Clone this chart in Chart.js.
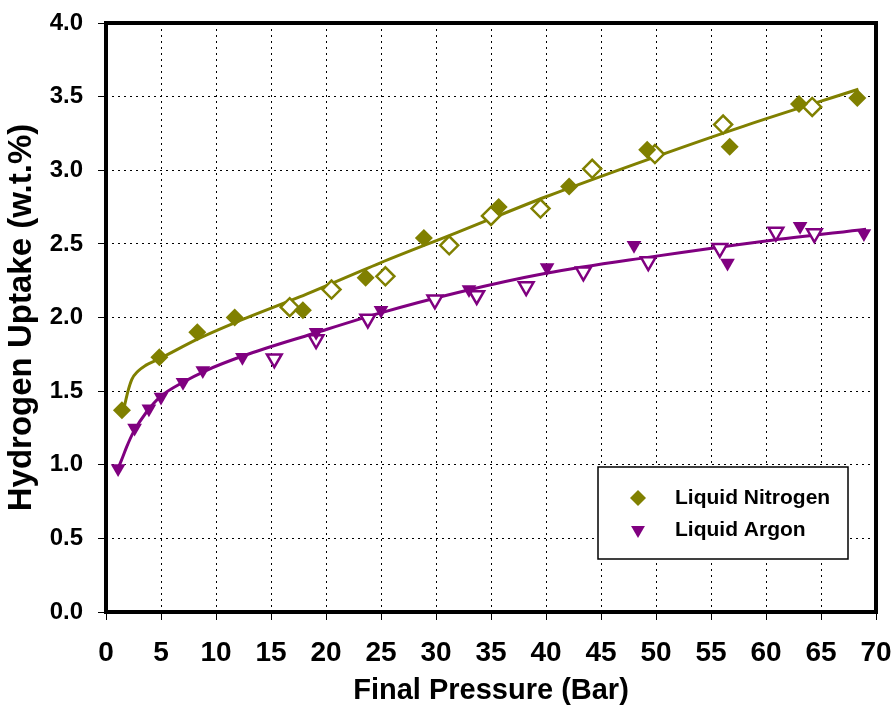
<!DOCTYPE html>
<html>
<head>
<meta charset="utf-8">
<title>Hydrogen Uptake vs Final Pressure</title>
<script src="https://cdn.jsdelivr.net/npm/chart.js@4.4.1/dist/chart.umd.min.js"></script>
<style>
  html, body { margin: 0; padding: 0; background: #ffffff; }
  #wrap { width: 895px; height: 708px; position: relative; }
</style>
</head>
<body>
<div id="wrap"><canvas id="uptake-chart"></canvas></div>
<script>
// ======================================================
// Hydrogen uptake vs final pressure (N2 / Ar cooling)
// ======================================================

const FONT = "'Liberation Sans', Arial, Helvetica, sans-serif";
const OLIVE = "#808000";
const PURPLE = "#800080";

// ------------------------------------------------------
// DATA
// ------------------------------------------------------
// liquid nitrogen, filled diamonds
const n2FilledP = [1.45, 4.85, 8.3, 11.7, 17.9, 23.6, 28.9, 35.7, 42.1, 49.2, 56.7, 63.0, 68.3];
const n2FilledH = [1.37, 1.73, 1.90, 2.00, 2.05, 2.27, 2.54, 2.75, 2.89, 3.14, 3.16, 3.45, 3.49];

// liquid nitrogen, open diamonds
const n2OpenP = [16.7, 20.5, 25.4, 31.2, 35.0, 39.5, 44.2, 49.9, 56.1, 64.2];
const n2OpenH = [2.07, 2.19, 2.28, 2.49, 2.69, 2.74, 3.01, 3.11, 3.31, 3.43];

// liquid argon, filled triangles
const arFilledP = [1.1, 2.6, 3.9, 5.0, 7.0, 8.8, 12.4, 19.1, 25.0, 33.0, 40.1, 48.0, 56.5, 63.1, 68.9];
const arFilledH = [0.975, 1.25, 1.38, 1.46, 1.56, 1.64, 1.73, 1.90, 2.05, 2.19, 2.34, 2.49, 2.37, 2.62, 2.57];

// liquid argon, open triangles
const arOpenP = [15.3, 19.1, 23.8, 29.9, 33.7, 38.2, 43.4, 49.3, 55.8, 60.9, 64.4];
const arOpenH = [1.72, 1.85, 1.99, 2.12, 2.15, 2.21, 2.31, 2.38, 2.47, 2.58, 2.57];

// trend curves
const n2CurveP = [1.65, 2.0, 2.35, 2.9, 3.6, 4.85, 8.5, 12.2, 17.6, 24.9, 32.0, 40.0, 49.9, 58.0, 68.4];
const n2CurveH = [1.39, 1.50, 1.58, 1.635, 1.675, 1.72, 1.86, 1.98, 2.14, 2.37, 2.58, 2.82, 3.09, 3.30, 3.55];

const arCurveP = [0.95, 1.4, 1.87, 2.48, 3.7, 4.9, 7.0, 9.1, 12.5, 18.8, 24.9, 32.0, 40.0, 49.4, 60.0, 69.1];
const arCurveH = [0.95, 1.03, 1.12, 1.22, 1.36, 1.46, 1.56, 1.64, 1.74, 1.89, 2.03, 2.17, 2.30, 2.41, 2.52, 2.60];

const legendNames = ["Liquid Nitrogen", "Liquid Argon"];

// ------------------------------------------------------
// HELPERS
// ------------------------------------------------------
function toPoints(xs, ys) {
  const out = [];
  for (let i = 0; i < xs.length; i++) {
    out.push({ x: xs[i], y: ys[i] });
  }
  return out;
}

function markerSet(xs, ys, style, color, open) {
  return {
    data: toPoints(xs, ys),
    showLine: false,
    pointStyle: style,
    rotation: style === "triangle" ? 180 : 0,
    pointRadius: style === "triangle" ? 8.5 : 9,
    pointBackgroundColor: open ? "#ffffff" : color,
    pointBorderColor: color,
    pointBorderWidth: open ? 2.5 : 0,
    order: 1,
  };
}

function curveSet(xs, ys, color) {
  return {
    data: toPoints(xs, ys),
    showLine: true,
    borderColor: color,
    borderWidth: 3,
    pointRadius: 0,
    cubicInterpolationMode: "monotone",
    order: 10,
  };
}

// keep the plot box fixed: no extra room for overhanging tick labels
function noOverhang(scale) {
  scale.paddingLeft = 0;
  scale.paddingRight = 0;
  scale.paddingTop = 0;
  scale.paddingBottom = 0;
}

// ------------------------------------------------------
// PLUGINS
// ------------------------------------------------------
const whiteBg = {
  id: "whiteBg",
  beforeDraw(chart) {
    const ctx = chart.ctx;
    ctx.save();
    ctx.fillStyle = "#ffffff";
    ctx.fillRect(0, 0, chart.width, chart.height);
    ctx.restore();
  },
};

// heavy plot frame + boxed legend in the lower right
const frameAndLegend = {
  id: "frameAndLegend",
  afterDraw(chart) {
    const ctx = chart.ctx;
    const a = chart.chartArea;

    ctx.save();
    ctx.strokeStyle = "#000000";
    ctx.lineWidth = 4;
    ctx.strokeRect(a.left, a.top, a.right - a.left, a.bottom - a.top);

    // legend box
    const bx = 598, by = 467, bw = 250, bh = 92;
    ctx.fillStyle = "#ffffff";
    ctx.fillRect(bx, by, bw, bh);
    ctx.lineWidth = 1.5;
    ctx.strokeRect(bx, by, bw, bh);

    const rows = [
      { y: by + 31, style: "rectRot", rot: 0, r: 8, color: OLIVE },
      { y: by + 63, style: "triangle", rot: 180, r: 8, color: PURPLE },
    ];

    for (let i = 0; i < rows.length; i++) {
      const row = rows[i];
      ctx.fillStyle = row.color;
      ctx.strokeStyle = row.color;
      Chart.helpers.drawPoint(
        ctx,
        { pointStyle: row.style, radius: row.r, rotation: row.rot, borderWidth: 0 },
        bx + 40,
        row.y
      );
      ctx.fillStyle = "#000000";
      ctx.font = "bold 21px " + FONT;
      ctx.textAlign = "left";
      ctx.textBaseline = "middle";
      ctx.fillText(legendNames[i], bx + 77, row.y);
    }
    ctx.restore();
  },
};

// ------------------------------------------------------
// CHART
// ------------------------------------------------------
function axisGrid() {
  return {
    color: "#000000",
    lineWidth: 1,
    drawTicks: true,
    tickLength: 8,
    tickColor: "#000000",
    tickWidth: 1,
    tickBorderDash: [],
  };
}

function renderChart() {
  const ctx = document.getElementById("uptake-chart").getContext("2d");

  new Chart(ctx, {
    type: "scatter",
    data: {
      datasets: [
        markerSet(n2FilledP, n2FilledH, "rectRot", OLIVE, false),
        markerSet(n2OpenP, n2OpenH, "rectRot", OLIVE, true),
        markerSet(arFilledP, arFilledH, "triangle", PURPLE, false),
        markerSet(arOpenP, arOpenH, "triangle", PURPLE, true),
        curveSet(n2CurveP, n2CurveH, OLIVE),
        curveSet(arCurveP, arCurveH, PURPLE),
      ],
    },
    options: {
      responsive: true,
      maintainAspectRatio: false,
      animation: false,
      events: [],
      layout: { padding: { left: 0, top: 23, right: 19, bottom: 0 } },
      plugins: {
        legend: { display: false },
        tooltip: { enabled: false },
      },
      scales: {
        x: {
          type: "linear",
          min: 0,
          max: 70,
          afterFit(scale) {
            scale.height = 96;
            noOverhang(scale);
          },
          ticks: {
            stepSize: 5,
            padding: 16,
            color: "#000000",
            font: { family: FONT, size: 28, weight: "bold" },
          },
          grid: axisGrid(),
          border: { display: false, dash: [2, 4] },
          title: {
            display: true,
            text: "Final Pressure (Bar)",
            color: "#000000",
            font: { family: FONT, size: 29, weight: "bold", lineHeight: 1.2 },
            padding: { top: 0, bottom: 0 },
          },
        },
        y: {
          type: "linear",
          min: 0,
          max: 4,
          afterFit(scale) {
            scale.width = 106;
            noOverhang(scale);
          },
          ticks: {
            stepSize: 0.5,
            padding: 15,
            color: "#000000",
            font: { family: FONT, size: 24, weight: "bold" },
            callback: function (v) { return Number(v).toFixed(1); },
          },
          grid: axisGrid(),
          border: { display: false, dash: [2, 4] },
          title: {
            display: true,
            text: "Hydrogen Uptake (w.t.%)",
            color: "#000000",
            font: { family: FONT, size: 33, weight: "bold", lineHeight: 1.2 },
            padding: { top: 2, bottom: 0 },
          },
        },
      },
    },
    plugins: [whiteBg, frameAndLegend],
  });
}

renderChart();
</script>
</body>
</html>
